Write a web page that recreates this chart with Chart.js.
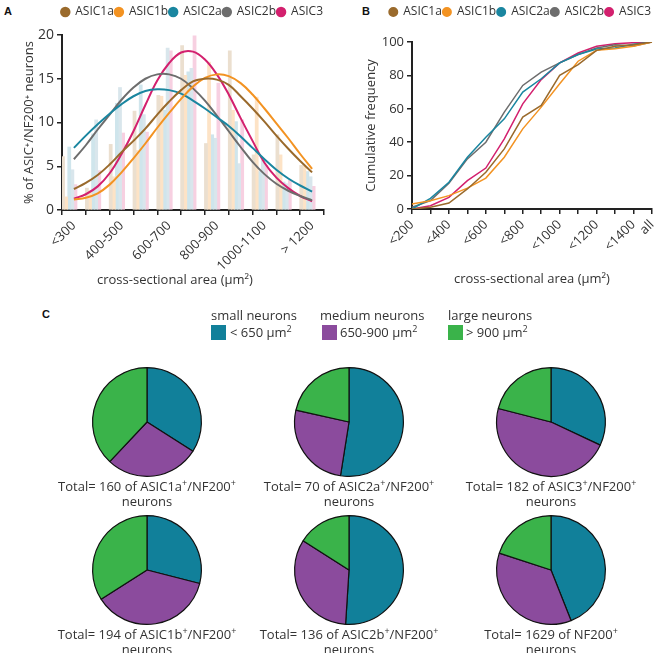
<!DOCTYPE html>
<html>
<head>
<meta charset="utf-8">
<script src="https://cdn.jsdelivr.net/npm/chart.js@4.4.1/dist/chart.umd.min.js"></script>
<style>
  body { margin: 0; background: #fff; font-family: 'Open Sans', 'DejaVu Sans', sans-serif; color: #333; }
  #page { position: relative; width: 666px; height: 653px; overflow: hidden; }
  canvas, .abs { position: absolute; }
  .letter { font: bold 11px 'Liberation Sans', Arial, sans-serif; color: #111; }
  .head { font-size: 13px; white-space: nowrap; }
  .swatch { width: 15px; height: 15px; }
  .pieLabel { width: 240px; text-align: center; font-size: 13px; line-height: 15px; }
  sup { font-size: 9px; line-height: 0; }
</style>
</head>
<body>
<div id="page">
  <div class="abs letter" style="left:4px; top:5px;">A</div>
  <div class="abs letter" style="left:362px; top:5px;">B</div>
  <div class="abs letter" style="left:42px; top:308px;">C</div>

  <canvas id="chartA" width="336" height="291" style="left:0; top:0;"></canvas>
  <div class="abs head" style="left:97px; top:270px;">cross-sectional area (µm²)</div>
  <canvas id="chartB" width="336" height="291" style="left:330px; top:0;"></canvas>

  <div class="abs head" style="left:211px; top:306px;">small neurons</div>
  <div class="abs swatch" style="left:211px; top:325px; background:#11809a;"></div>
  <div class="abs head" style="left:230px; top:323px;">&lt; 650 µm<sup>2</sup></div>
  <div class="abs head" style="left:320px; top:306px;">medium neurons</div>
  <div class="abs swatch" style="left:322px; top:325px; background:#8b4b9d;"></div>
  <div class="abs head" style="left:340px; top:323px;">650-900 µm<sup>2</sup></div>
  <div class="abs head" style="left:448px; top:306px;">large neurons</div>
  <div class="abs swatch" style="left:448px; top:325px; background:#3ab34a;"></div>
  <div class="abs head" style="left:466px; top:323px;">&gt; 900 µm<sup>2</sup></div>
</div>

<script>
// ---- panel A: size distribution (bars) and fitted curves ----
const seriesNames = ['ASIC1a', 'ASIC1b', 'ASIC2a', 'ASIC2b', 'ASIC3'];
const seriesColors = ['#9a6a2c', '#f39322', '#1a86a0', '#6d6d6d', '#d3206e'];
const barColors = ['#ebdfcf', '#fde3c6', '#cfe5ec', '#d9e6ec', '#f7d0e1'];

const binsA = ['<300', '300-400', '400-500', '500-600', '600-700', '700-800', '800-900', '900-1000', '1000-1100', '1100-1200', '> 1200'];
const hist1a = [6.1, 2.5, 7.5, 11.3, 13.1, 18.8, 7.6, 18.2, 6.3, 8.6, 5.1];
const hist1b = [1.5, 2.2, 3.8, 6.8, 13.0, 15.4, 16.9, 11.4, 12.9, 6.3, 5.0];
const hist2a = [7.2, 8.7, 12.2, 14.3, 11.4, 15.8, 8.6, 10.1, 4.4, 3.2, 4.4];
const hist2b = [4.6, 10.3, 14.0, 10.9, 18.5, 16.2, 8.2, 5.3, 5.7, 3.0, 3.8];
const hist3 = [2.9, 4.5, 8.8, 8.9, 18.2, 19.9, 14.5, 10.3, 5.1, 3.4, 2.7];

// curve readings at every half bin
const fitX = [0, 0.5, 1, 1.5, 2, 2.5, 3, 3.5, 4, 4.5, 5, 5.5, 6, 6.5, 7, 7.5, 8, 8.5, 9, 9.5, 10];
const fit1a = [2.4, 3.1, 4.0, 5.2, 6.6, 7.9, 9.3, 10.9, 12.4, 13.7, 14.7, 15.0, 14.9, 14.3, 13.0, 11.6, 10.1, 8.5, 7.0, 5.6, 4.3];
const fit1b = [1.2, 1.4, 1.9, 2.9, 4.3, 5.9, 7.6, 9.4, 11.1, 12.7, 14.1, 15.1, 15.5, 15.3, 14.5, 13.2, 11.6, 9.9, 8.2, 6.4, 4.7];
const fit2a = [7.1, 8.5, 9.8, 11.0, 12.1, 13.0, 13.6, 13.8, 13.7, 13.3, 12.5, 11.6, 10.6, 9.6, 8.4, 7.1, 5.8, 4.6, 3.6, 2.8, 2.1];
const fit2b = [5.8, 7.4, 9.2, 10.9, 12.6, 14.0, 15.0, 15.5, 15.5, 15.0, 13.9, 12.5, 10.8, 9.0, 7.2, 5.5, 4.1, 3.0, 2.2, 1.6, 1.1];
const fit3 = [1.3, 1.8, 2.7, 4.2, 6.4, 9.0, 12.0, 14.8, 16.8, 18.0, 18.1, 17.2, 15.5, 13.2, 10.5, 7.9, 5.4, 3.7, 2.5, 1.6, 1.0];

// ---- panel B: cumulative frequency ----
const binsB = ['<200', '<300', '<400', '<500', '<600', '<700', '<800', '<900', '<1000', '<1100', '<1200', '<1300', '<1400', 'all'];
const cum1a = [0, 1, 3.6, 12, 22, 36, 55, 62, 80, 86.5, 95, 97.4, 98.4, 100];
const cum1b = [3, 5, 8, 12.5, 18.5, 31, 48, 61, 75, 88.5, 95, 96, 97.4, 100];
const cum2a = [0, 6.4, 16, 31, 43, 54, 70, 78, 87.5, 92.5, 95.8, 96.4, 98.6, 100];
const cum2b = [1, 5, 15.4, 30, 40, 58, 74, 82, 87.5, 92.5, 96.4, 98.4, 97.6, 100];
const cum3 = [0, 2, 7, 17, 24.5, 42, 63, 77.5, 87.5, 93.4, 97.4, 99, 99.6, 100];

// ---- panel C: size classes per population (%) ----
const pieClasses = ['< 650 µm²', '650-900 µm²', '> 900 µm²'];
const pieColors = ['#11809a', '#8b4b9d', '#3ab34a'];
const pieNames = ['ASIC1a', 'ASIC2a', 'ASIC3', 'ASIC1b', 'ASIC2b', 'NF200'];
const pieTotals = [160, 70, 182, 194, 136, 1629];
const pieSmall = [34, 52.5, 32, 29, 51, 44];
const pieMedium = [28, 26, 47, 37, 33, 36];
const pieLarge = [38, 21.5, 21, 34, 16, 20];

Chart.defaults.font.family = "'Open Sans', 'DejaVu Sans', sans-serif";
Chart.defaults.color = '#333';
Chart.defaults.animation = false;
Chart.defaults.plugins.tooltip.enabled = false;

const axisColor = '#222';
function axisGrid() {
    return { display: true, drawOnChartArea: false, drawTicks: true, tickLength: 5, color: axisColor, lineWidth: 1.5 };
}
function axisBorder() {
    return { display: true, color: axisColor, width: 2 };
}
function legendOpts() {
    return {
        align: 'end',
        labels: {
            usePointStyle: true, boxWidth: 8, boxHeight: 6, padding: 1,
            font: { size: 12 }, color: '#333',
            filter: item => item.datasetIndex < 5
        }
    };
}
// empty title used as a gap between legend and plot
function spacer(gap) {
    return { display: true, text: ' ', weight: 500, padding: { top: 0, bottom: gap }, font: { size: 1, lineHeight: 1 } };
}

const fitsA = [fit1a, fit1b, fit2a, fit2b, fit3];
const histsA = [hist1a, hist1b, hist2a, hist2b, hist3];

new Chart(document.getElementById('chartA'), {
    type: 'bar',
    data: {
        labels: binsA,
        datasets: [
            ...seriesNames.map((name, i) => ({
                type: 'line', label: name, xAxisID: 'xc',
                data: fitX.map((x, j) => ({ x: x, y: fitsA[i][j] })),
                borderColor: seriesColors[i], backgroundColor: seriesColors[i],
                borderWidth: 2, pointRadius: 0, pointStyle: 'circle', tension: 0.4, fill: false
            })),
            ...seriesNames.map((name, i) => ({
                label: name, data: histsA[i], backgroundColor: barColors[i],
                barThickness: 3.1
            }))
        ]
    },
    options: {
        responsive: false,
        layout: { padding: { left: 17, right: 12, top: 5, bottom: 0 } },
        plugins: { legend: legendOpts(), title: spacer(6) },
        scales: {
            x: { display: false, offset: true },
            xc: {
                type: 'linear', position: 'bottom', min: 0, max: 10,
                afterFit: s => { s.height = 81; },
                border: axisBorder(), grid: axisGrid(),
                ticks: {
                    stepSize: 1, autoSkip: false, minRotation: 45, maxRotation: 45,
                    font: { size: 13 }, color: '#333',
                    callback: v => (v % 2 === 0 ? binsA[v] : '')
                }
            },
            y: {
                min: 0, max: 20,
                afterFit: s => { s.width = 45; },
                border: axisBorder(), grid: axisGrid(),
                ticks: { stepSize: 5, font: { size: 14 }, color: '#333' },
                title: { display: true, text: '% of ASIC⁺/NF200⁺ neurons', font: { size: 13 }, color: '#333' }
            }
        }
    }
});

const cumsB = [cum1a, cum1b, cum2a, cum2b, cum3];

new Chart(document.getElementById('chartB'), {
    type: 'line',
    data: {
        labels: binsB,
        datasets: seriesNames.map((name, i) => ({
            label: name, data: cumsB[i],
            borderColor: seriesColors[i], backgroundColor: seriesColors[i],
            borderWidth: 1.5, pointRadius: 0, pointStyle: 'circle', tension: 0, fill: false
        }))
    },
    options: {
        responsive: false,
        layout: { padding: { left: 29, right: 14, top: 5, bottom: 0 } },
        plugins: { legend: legendOpts(), title: spacer(13) },
        scales: {
            x: {
                afterFit: s => { s.height = 82; },
                border: axisBorder(), grid: axisGrid(),
                ticks: {
                    autoSkip: false, minRotation: 45, maxRotation: 45,
                    font: { size: 13 }, color: '#333',
                    callback: (v, i) => (i % 2 === 0 || i === binsB.length - 1 ? binsB[i] : '')
                },
                title: { display: true, text: 'cross-sectional area (µm²)', font: { size: 13 }, color: '#333' }
            },
            y: {
                min: 0, max: 100,
                afterFit: s => { s.width = 53; },
                border: axisBorder(), grid: axisGrid(),
                ticks: { stepSize: 20, font: { size: 13 }, color: '#333' },
                title: { display: true, text: 'Cumulative frequency', font: { size: 13 }, color: '#333' }
            }
        }
    }
});

const pieCenters = [[147, 422], [349, 422], [551, 422], [147, 570], [349, 570], [551, 570]];
const page = document.getElementById('page');

pieNames.forEach((name, k) => {
    const [cx, cy] = pieCenters[k];
    const canvas = document.createElement('canvas');
    canvas.width = 120;
    canvas.height = 120;
    canvas.style.left = (cx - 60) + 'px';
    canvas.style.top = (cy - 60) + 'px';
    page.appendChild(canvas);

    new Chart(canvas, {
        type: 'pie',
        data: {
            labels: pieClasses,
            datasets: [{
                data: [pieSmall[k], pieMedium[k], pieLarge[k]],
                backgroundColor: pieColors, borderColor: '#111', borderWidth: 1.2
            }]
        },
        options: { responsive: false, layout: { padding: 5 }, plugins: { legend: { display: false } } }
    });

    const label = document.createElement('div');
    label.className = 'abs pieLabel';
    label.style.left = (cx - 120) + 'px';
    label.style.top = (cy + 57) + 'px';
    const who = name === 'NF200' ? 'NF200<sup>+</sup>' : name + '<sup>+</sup>/NF200<sup>+</sup>';
    label.innerHTML = 'Total= ' + pieTotals[k] + ' of ' + who + '<br>neurons';
    page.appendChild(label);
});
</script>
</body>
</html>
